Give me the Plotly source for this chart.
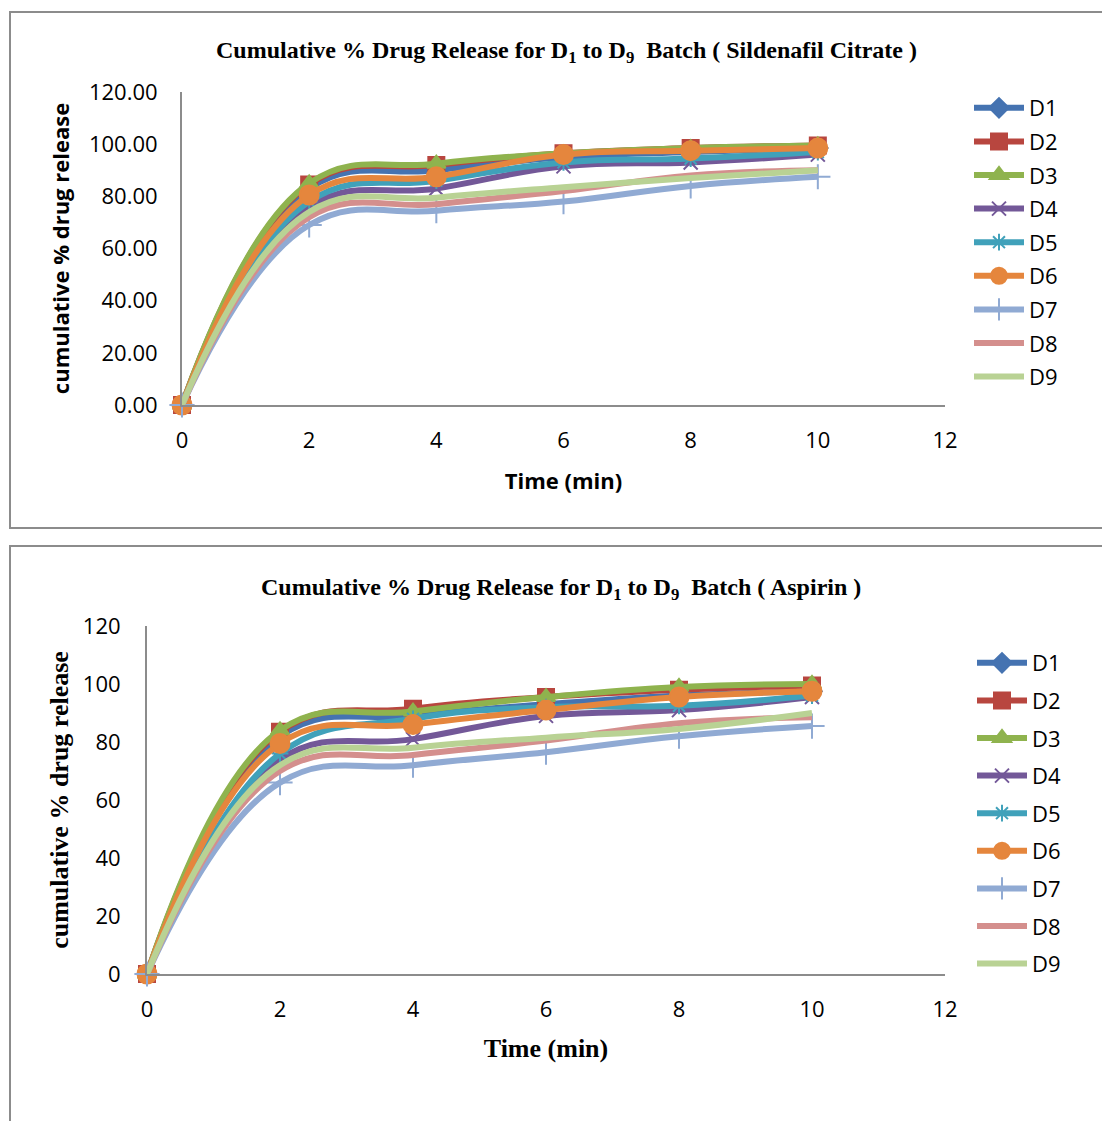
import plotly.graph_objects as go

W, H = 1102, 1121

time_min = [0, 2, 4, 6, 8, 10]
series_names = ["D1", "D2", "D3", "D4", "D5", "D6", "D7", "D8", "D9"]

# Sildenafil Citrate
sil_D1 = [0, 83.0, 90.0, 95.0, 97.0, 98.5]
sil_D2 = [0, 84.5, 92.0, 96.5, 98.5, 99.5]
sil_D3 = [0, 85.0, 92.5, 96.5, 98.5, 99.5]
sil_D4 = [0, 76.0, 83.0, 91.5, 93.0, 96.0]
sil_D5 = [0, 78.0, 86.0, 93.0, 94.5, 97.0]
sil_D6 = [0, 80.5, 87.5, 96.0, 97.5, 98.5]
sil_D7 = [0, 69.0, 74.5, 78.0, 84.0, 87.5]
sil_D8 = [0, 72.0, 77.0, 82.0, 88.0, 90.0]
sil_D9 = [0, 74.0, 79.5, 83.5, 87.0, 90.0]

# Aspirin
asp_D1 = [0, 82.0, 89.0, 93.0, 96.0, 97.5]
asp_D2 = [0, 83.5, 91.5, 95.5, 98.0, 99.5]
asp_D3 = [0, 84.0, 90.5, 95.5, 99.0, 100.0]
asp_D4 = [0, 74.0, 81.0, 89.0, 91.0, 95.5]
asp_D5 = [0, 76.0, 88.0, 92.0, 92.5, 96.0]
asp_D6 = [0, 79.5, 86.0, 91.0, 95.5, 97.5]
asp_D7 = [0, 66.0, 72.0, 76.5, 82.0, 85.5]
asp_D8 = [0, 70.0, 75.5, 80.5, 86.5, 88.5]
asp_D9 = [0, 72.0, 78.0, 81.5, 84.5, 90.0]

sil = [sil_D1, sil_D2, sil_D3, sil_D4, sil_D5, sil_D6, sil_D7, sil_D8, sil_D9]
asp = [asp_D1, asp_D2, asp_D3, asp_D4, asp_D5, asp_D6, asp_D7, asp_D8, asp_D9]

colors = ["#4573B1", "#B8463F", "#8FB34E", "#735898", "#40A1BA", "#E5863D",
          "#90AAD3", "#D48F8D", "#B9D294"]
symbols = ["diamond", "square", "triangle-up", "x-thin", "asterisk", "circle",
           "cross-thin", "circle", "circle"]
msizes = [15, 16, 16, 14, 14, 19, 18, 0, 0]

SANS = "Open Sans, Calibri, Carlito, Liberation Sans, sans-serif"
SERIF = "Liberation Serif, Times New Roman, serif"

fig = go.Figure()

def add_series(data, xa, ya, legend):
    for i, name in enumerate(series_names):
        show_m = msizes[i] > 0
        fig.add_trace(go.Scatter(
            x=time_min, y=data[i], name=name,
            mode="lines+markers" if show_m else "lines",
            line=dict(color=colors[i], width=6, shape="spline", smoothing=1.2),
            marker=dict(symbol=symbols[i], size=msizes[i] if show_m else 1,
                        color=colors[i],
                        line=dict(color=colors[i], width=2)),
            xaxis=xa, yaxis=ya, legend=legend, cliponaxis=False,
            legendgroup=legend + name,
        ))

add_series(sil, "x", "y", "legend")
add_series(asp, "x2", "y2", "legend2")

def px_x(p):
    return p / W

def px_y(p):
    return 1 - p / H

axis_common = dict(showgrid=False, zeroline=False, showline=True,
                   linecolor="#8C8C8C", linewidth=2, ticks="", automargin=False,
                   tickfont=dict(family=SANS, size=22, color="black"))

fig.update_layout(
    width=W, height=H, autosize=False,
    margin=dict(l=0, r=0, t=0, b=0, pad=0),
    paper_bgcolor="white", plot_bgcolor="white",
    showlegend=True,
    xaxis=dict(domain=[px_x(182), px_x(945)], range=[0, 12], dtick=2,
               anchor="y", ticklabelstandoff=15,
               title=dict(text="<b>Time (min)</b>",
                          font=dict(family=SANS, size=22, color="black"),
                          standoff=20),
               **axis_common),
    yaxis=dict(domain=[px_y(405), px_y(92)], range=[0, 120], dtick=20,
               tickformat=".2f", anchor="x", ticklabelstandoff=18,
               title=dict(text="<b>cumulative % drug release</b>",
                          font=dict(family=SANS, size=22, color="black"),
                          standoff=13),
               **axis_common),
    xaxis2=dict(domain=[px_x(147), px_x(945)], range=[0, 12], dtick=2,
                anchor="y2", ticklabelstandoff=15,
                title=dict(text="<b>Time (min)</b>",
                           font=dict(family=SERIF, size=26, color="black"),
                           standoff=16),
                **axis_common),
    yaxis2=dict(domain=[px_y(974), px_y(626)], range=[0, 120], dtick=20,
                anchor="x2", ticklabelstandoff=20,
                title=dict(text="<b>cumulative % drug release</b>",
                           font=dict(family=SERIF, size=26, color="black"),
                           standoff=7),
                **axis_common),
    legend=dict(x=px_x(969), y=px_y(87), xanchor="left", yanchor="top",
                font=dict(family=SANS, size=22, color="black"),
                tracegroupgap=2, itemwidth=50, bgcolor="rgba(0,0,0,0)"),
    legend2=dict(x=px_x(972), y=px_y(642), xanchor="left", yanchor="top",
                 font=dict(family=SANS, size=22, color="black"),
                 tracegroupgap=6, itemwidth=50, bgcolor="rgba(0,0,0,0)"),
    annotations=[
        dict(text="<b>Cumulative % Drug Release for D<sub>1</sub> to D<sub>9</sub>  Batch ( Sildenafil Citrate )</b>",
             x=px_x(566), y=px_y(52), xref="paper", yref="paper",
             xanchor="center", yanchor="middle", showarrow=False,
             font=dict(family=SERIF, size=24, color="black")),
        dict(text="<b>Cumulative % Drug Release for D<sub>1</sub> to D<sub>9</sub>  Batch ( Aspirin )</b>",
             x=px_x(561), y=px_y(589), xref="paper", yref="paper",
             xanchor="center", yanchor="middle", showarrow=False,
             font=dict(family=SERIF, size=24, color="black")),
    ],
    shapes=[
        dict(type="rect", xref="paper", yref="paper",
             x0=px_x(10), x1=1.05, y0=px_y(528), y1=px_y(12),
             line=dict(color="#8C8C8C", width=2), layer="below"),
        dict(type="rect", xref="paper", yref="paper",
             x0=px_x(10), x1=1.05, y0=-0.05, y1=px_y(546),
             line=dict(color="#8C8C8C", width=2), layer="below"),
    ],
)

fig.write_html("out.html")
